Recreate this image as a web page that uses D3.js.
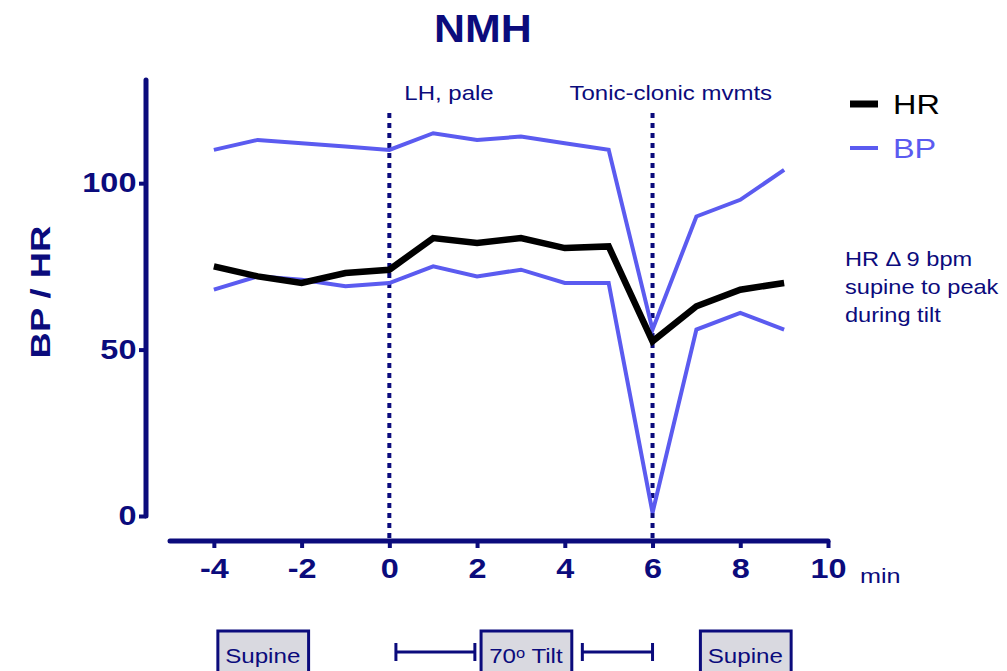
<!DOCTYPE html>
<html>
<head>
<meta charset="utf-8">
<script src="https://cdn.jsdelivr.net/npm/d3@7"></script>
<style>
  body { margin: 0; background: #fff; }
  text { font-family: Arial, "Liberation Sans", sans-serif; }
</style>
</head>
<body>
<svg width="1007" height="671"></svg>
<script>
var svg = d3.select('svg');

var minutes = [-4, -3, -2, -1, 0, 1, 2, 3, 4, 5, 6, 7, 8, 9];
var hr      = [75, 72, 70, 73, 74, 83.5, 82, 83.5, 80.5, 81, 52.5, 63, 68, 70];
var bpHigh  = [110, 113, 112, 111, 110, 115, 113, 114, 112, 110, 56, 90, 95, 104];
var bpLow   = [68, 72, 71, 69, 70, 75, 72, 74, 70, 70, 1, 56, 61, 56];

var xTicks = [-4, -2, 0, 2, 4, 6, 8, 10];
var yTicks = [0, 50, 100];
var events = [{ t: 0, label: 'LH, pale' }, { t: 6, label: 'Tonic-clonic mvmts' }];

var navy = '#0b0b7c',
    bpColor = '#5b5bf0',
    wide = 1.2;   // glyphs in the original are drawn wider than Arial

var x = d3.scaleLinear().domain([-5, 10]).range([170, 828]);
var y = d3.scaleLinear().domain([0, 131]).range([516, 80]);

// text placed at (px,py), stretched horizontally
function label(px, py, str, size, opts) {
    opts = opts || {};
    var g = svg.append('g')
        .attr('transform', 'translate(' + px + ',' + py + ')' + (opts.rotate ? ' rotate(' + opts.rotate + ')' : '') +
              ' scale(' + (opts.k || wide) + ',1)');
    return g.append('text')
        .attr('text-anchor', opts.anchor || 'start')
        .attr('fill', opts.fill || navy)
        .style('font-size', size + 'px')
        .style('font-weight', opts.bold ? 'bold' : 'normal')
        .text(str);
}

// axes
var yAxis = svg.append('g')
    .attr('transform', 'translate(146,0)')
    .call(d3.axisLeft(y).tickValues(yTicks).tickSize(7).tickPadding(1));
var xAxis = svg.append('g')
    .attr('transform', 'translate(0,541)')
    .call(d3.axisBottom(x).tickValues(xTicks).tickFormat(String).tickSize(7).tickPadding(11));

[yAxis, xAxis].forEach(function(a) {
    a.select('.domain').remove();
    a.selectAll('.tick line').attr('stroke', navy).attr('stroke-width', 4);
    a.selectAll('.tick text')
        .attr('fill', navy)
        .attr('transform', 'scale(' + wide + ',1)')
        .style('font-size', '27px')
        .style('font-weight', 'bold');
});
yAxis.append('line')
    .attr('x1', 0).attr('x2', 0)
    .attr('y1', y.range()[0]).attr('y2', y.range()[1])
    .attr('stroke', navy).attr('stroke-width', 5).attr('stroke-linecap', 'round');
xAxis.append('line')
    .attr('x1', x.range()[0]).attr('x2', x.range()[1])
    .attr('stroke', navy).attr('stroke-width', 5).attr('stroke-linecap', 'round');
xAxis.selectAll('.tick text').attr('dy', '0.71em');

label(860, 583, 'min', 21, { k: 1.2 });
label(50, 292, 'BP / HR', 28, { rotate: -90, anchor: 'middle', bold: true, k: 1.3 });
label(483, 42, 'NMH', 38, { anchor: 'middle', bold: true, k: 1.13 });

// event markers
svg.selectAll('.event')
    .data(events)
    .enter().append('line')
        .attr('x1', function(d) { return x(d.t); })
        .attr('x2', function(d) { return x(d.t); })
        .attr('y1', 113).attr('y2', 539)
        .attr('stroke', navy).attr('stroke-width', 4)
        .attr('stroke-dasharray', '5,5');

events.forEach(function(d, i) {
    label(x(d.t) + (i ? -83 : 15), 100, d.label, 20);
});

// series
var line = d3.line()
    .x(function(d, i) { return x(minutes[i]); })
    .y(function(d) { return y(d); });

[bpHigh, bpLow].forEach(function(s) {
    svg.append('path')
        .attr('d', line(s))
        .attr('fill', 'none')
        .attr('stroke', bpColor)
        .attr('stroke-width', 4);
});
svg.append('path')
    .attr('d', line(hr))
    .attr('fill', 'none')
    .attr('stroke', '#000')
    .attr('stroke-width', 6.5);

// legend
var legend = [{ name: 'HR', color: '#000', w: 7 }, { name: 'BP', color: bpColor, w: 4 }];
legend.forEach(function(d, i) {
    var ly = 104 + i * 44;
    svg.append('line')
        .attr('x1', 850).attr('x2', 878)
        .attr('y1', ly).attr('y2', ly)
        .attr('stroke', d.color)
        .attr('stroke-width', d.w);
    label(893, ly + 10, d.name, 27, { fill: d.color, k: 1.2 });
});

// note
var note = ['HR \u0394 9 bpm', 'supine to peak', 'during tilt'];
note.forEach(function(s, i) {
    label(845, 266 + i * 28, s, 20, { k: 1.18 });
});

// phase boxes
var phases = [
    { t0: -4, t1: -2, label: 'Supine' },
    { t0: 2, t1: 4, label: '70\u1d52 Tilt' },
    { t0: 7, t1: 9, label: 'Supine' }
];
phases.forEach(function(d) {
    svg.append('rect')
        .attr('x', x(d.t0) + 4)
        .attr('y', 631)
        .attr('width', x(d.t1) - x(d.t0) + 3)
        .attr('height', 50)
        .attr('fill', '#d9d9e0')
        .attr('stroke', navy)
        .attr('stroke-width', 3);
    label((x(d.t0) + x(d.t1)) / 2 + 5, 663, d.label, 21, { anchor: 'middle', k: 1.15 });
});

// tilt range bars
var ranges = [[0.15, 1.95], [4.4, 6]];
var rg = svg.selectAll('.range')
    .data(ranges)
    .enter().append('g')
        .attr('stroke', navy).attr('stroke-width', 3);
rg.append('line')
    .attr('x1', function(d) { return x(d[0]); })
    .attr('x2', function(d) { return x(d[1]); })
    .attr('y1', 652).attr('y2', 652);
rg.selectAll('.cap')
    .data(function(d) { return d; })
    .enter().append('line')
        .attr('x1', function(d) { return x(d); })
        .attr('x2', function(d) { return x(d); })
        .attr('y1', 643).attr('y2', 661);
</script>
</body>
</html>
